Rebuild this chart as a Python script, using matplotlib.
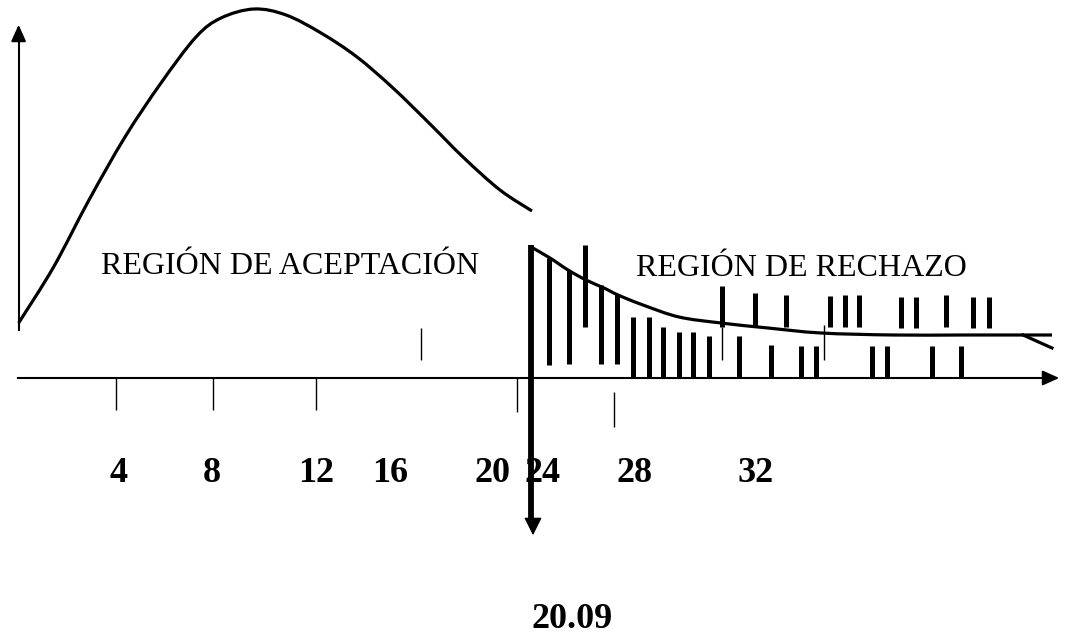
import matplotlib
matplotlib.use("Agg")
import matplotlib.pyplot as plt
from matplotlib.path import Path
from matplotlib.patches import PathPatch

# Diagram drawn in a pixel-like coordinate space (x right, y down)
# Acceptance-region curve (chi-square like density)
curve_x = [18.6, 53.6, 89, 125, 161, 196, 221, 254, 286, 321, 357, 393, 429, 464, 500, 532]
curve_y = [323, 267, 200, 137, 83, 37, 18, 9, 15, 33, 57, 88, 123, 158, 190, 211]

# Rejection-region tail curve
tail_x = [531, 550, 568, 586, 604, 618, 643, 679, 721, 768, 821, 893, 964, 1052]
tail_y = [247, 258, 270, 280, 288, 295, 305, 317, 323, 328, 333, 335, 335, 335]
tail_end_x = [1023, 1052]
tail_end_y = [335, 348]

# Hatch bars: x, top, bottom
hatch_x = [549, 569, 585, 601, 617, 633, 649, 663, 679, 693, 709, 722, 739, 755, 771,
           786, 801, 816, 830, 845, 859, 872, 887, 901, 916, 932, 946, 961, 973, 989]
hatch_top = [258, 270, 245, 285, 294, 317, 317, 327, 332, 332, 336, 286, 336, 293, 345,
             295, 346, 346, 296, 295, 295, 346, 346, 297, 297, 346, 295, 346, 297, 297]
hatch_bot = [365, 364, 327, 364, 364, 377, 377, 377, 377, 377, 377, 327, 377, 327, 377,
             327, 377, 377, 327, 327, 327, 377, 377, 328, 328, 377, 327, 377, 328, 328]

# Thin marks
thin_x = [116, 213, 316, 517, 614, 421, 722, 824]
thin_top = [378, 378, 378, 378, 392, 328, 327, 325]
thin_bot = [410, 410, 410, 412, 427, 360, 360, 360]

# Axis tick labels
tick_labels = ["4", "8", "12", "16", "20", "24", "28", "32"]
tick_label_x = [118, 212, 316, 390, 493, 542, 635, 756]
critical_label = "20.09"


def smooth_path(xs, ys):
    """Catmull-Rom spline through the points, expressed as cubic Bezier path."""
    pts = list(zip(xs, ys))
    verts = [pts[0]]
    codes = [Path.MOVETO]
    n = len(pts)
    for i in range(n - 1):
        p0 = pts[i - 1] if i > 0 else pts[i]
        p1 = pts[i]
        p2 = pts[i + 1]
        p3 = pts[i + 2] if i + 2 < n else pts[i + 1]
        c1 = (p1[0] + (p2[0] - p0[0]) / 6.0, p1[1] + (p2[1] - p0[1]) / 6.0)
        c2 = (p2[0] - (p3[0] - p1[0]) / 6.0, p2[1] - (p3[1] - p1[1]) / 6.0)
        verts += [c1, c2, p2]
        codes += [Path.CURVE4, Path.CURVE4, Path.CURVE4]
    return Path(verts, codes)


fig = plt.figure(figsize=(10.68, 6.39), dpi=100)
ax = fig.add_axes([0, 0, 1, 1])
ax.set_xlim(0, 1068)
ax.set_ylim(639, 0)
ax.axis("off")

# axes
ax.plot([18.6, 18.6], [330, 36], color="black", lw=1.5)
ax.annotate("", xy=(18.6, 22), xytext=(18.6, 40),
            arrowprops=dict(arrowstyle="-|>,head_length=1.0,head_width=0.45", color="black", lw=1.5))
ax.plot([18, 1048], [378, 378], color="black", lw=1.5)
ax.annotate("", xy=(1062, 378), xytext=(1040, 378),
            arrowprops=dict(arrowstyle="-|>,head_length=1.0,head_width=0.45", color="black", lw=1.5))

# curves
ax.add_patch(PathPatch(smooth_path(curve_x, curve_y), fill=False, edgecolor="black",
                       lw=2.3, capstyle="butt"))
ax.add_patch(PathPatch(smooth_path(tail_x, tail_y), fill=False, edgecolor="black",
                       lw=2.3, joinstyle="miter"))
ax.plot(tail_end_x, tail_end_y, color="black", lw=2.3)

# critical thick line with arrow
ax.plot([531, 531], [245, 522], color="black", lw=4.2, solid_capstyle="butt")
ax.annotate("", xy=(533, 538), xytext=(533, 515),
            arrowprops=dict(arrowstyle="-|>,head_length=1.1,head_width=0.55", color="black", lw=1))

# hatch
for x, t, b in zip(hatch_x, hatch_top, hatch_bot):
    ax.plot([x, x], [t, b], color="black", lw=3.6, solid_capstyle="butt")
for x, t, b in zip(thin_x, thin_top, thin_bot):
    ax.plot([x, x], [t, b], color="black", lw=1.0, solid_capstyle="butt")

serif = ["Liberation Serif", "DejaVu Serif"]
ax.text(290, 266, "REGIÓN DE ACEPTACIÓN", family=serif, fontsize=23,
        ha="center", va="center")
ax.text(801, 268, "REGIÓN DE RECHAZO", family=serif, fontsize=23,
        ha="center", va="center")
for lab, x in zip(tick_labels, tick_label_x):
    ax.text(x, 474, lab, family=serif, fontsize=26, fontweight="bold",
            ha="center", va="center")
ax.text(572, 620, critical_label, family=serif, fontsize=26, fontweight="bold",
        ha="center", va="center")

fig.savefig("out.png", dpi=100)
